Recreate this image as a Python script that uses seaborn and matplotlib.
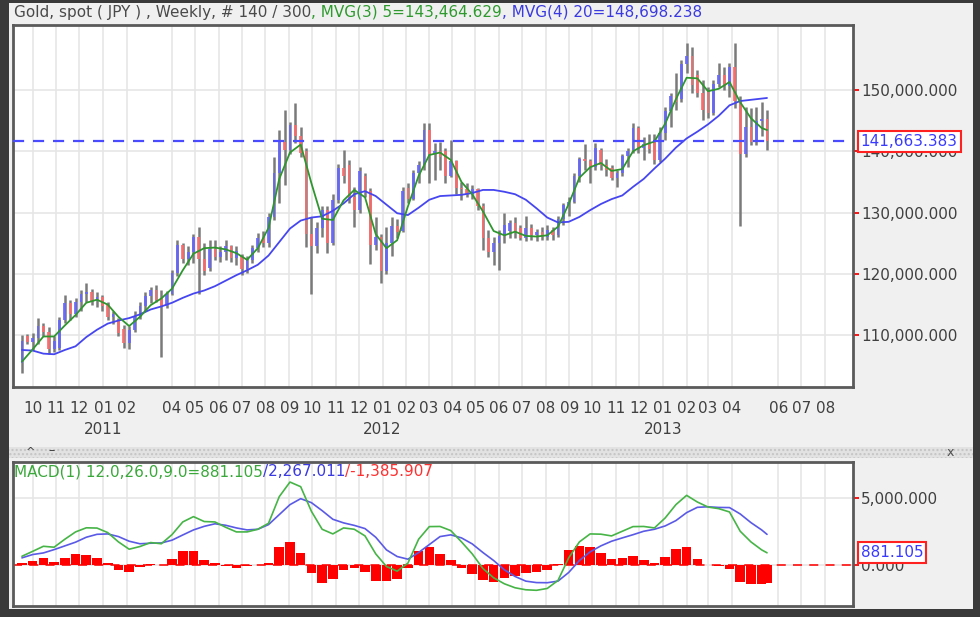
import numpy as np
import pandas as pd
import matplotlib
matplotlib.use("Agg")
import matplotlib.pyplot as plt
import matplotlib.transforms as mtransforms
from matplotlib.patches import Rectangle
import seaborn as sns

# ---------------- data (prices in thousands of JPY) ----------------
first_week = "2010-09-17"
n_weeks = 140

open_k = [105.5, 109.8, 108.9, 109.5, 111.5, 110.6, 107.8, 108.0, 112.5, 115.2,
          113.5, 115.5, 116.8, 117.0, 115.6, 116.3, 115.0, 113.0, 112.5, 111.0,
          108.8, 110.8, 113.2, 114.7, 116.4, 117.3, 116.0, 114.8, 116.8, 120.2,
          124.8, 122.5, 123.5, 126.0, 122.5, 121.0, 124.0, 122.8, 123.6, 124.5,
          122.6, 123.0, 120.8, 122.2, 124.3, 125.8, 125.0, 129.3, 136.5, 141.5,
          140.2, 144.3, 142.5, 140.0, 126.5, 124.5, 127.5, 130.5, 125.0, 132.0,
          137.3, 137.8, 132.5, 130.5, 136.0, 133.5, 124.8, 126.0, 120.5, 125.0,
          127.8, 127.0, 134.0, 132.2, 136.5, 137.8, 143.5, 139.5, 140.0, 140.0,
          136.0, 138.5, 134.0, 133.8, 133.0, 133.8, 131.0, 125.8, 123.5, 125.0,
          126.2, 127.0, 128.3, 127.5, 125.9, 127.5, 126.3, 126.9, 126.0, 127.2,
          126.4, 129.0, 131.2, 131.8, 136.0, 138.7, 138.4, 137.5, 140.2, 137.8,
          137.2, 135.6, 136.4, 139.2, 140.2, 143.8, 140.5, 141.2, 141.8, 138.6,
          143.0, 146.5, 149.0, 148.5, 154.2, 155.5, 152.5, 149.5, 149.8, 146.2,
          151.0, 152.5, 150.6, 153.8, 148.2, 139.5, 144.0, 141.5, 145.0, 145.2]
high_k = [110.0, 110.2, 110.3, 112.8, 112.0, 111.4, 109.8, 113.0, 116.5, 115.8,
          116.0, 117.4, 118.5, 117.5, 117.0, 116.5, 115.4, 114.0, 112.8, 111.6,
          111.5, 114.0, 115.5, 117.0, 117.9, 118.2, 117.4, 117.2, 120.6, 125.5,
          125.0, 124.5, 126.5, 127.7, 125.0, 125.5, 125.5, 124.5, 125.5, 124.8,
          124.5, 123.2, 123.0, 124.8, 126.6, 127.0, 129.9, 139.0, 143.5, 146.7,
          144.8, 147.8, 144.0, 140.5, 129.3, 128.5, 131.0, 131.0, 133.1, 138.0,
          140.2, 138.6, 134.2, 137.5, 136.4, 134.0, 129.3, 126.5, 127.7, 129.3,
          129.0, 134.2, 134.8, 137.0, 138.5, 144.6, 144.6, 141.3, 141.5, 140.5,
          141.8, 138.6, 135.0, 134.8, 134.5, 134.0, 131.5, 127.2, 126.1, 127.2,
          129.9, 128.8, 129.3, 128.0, 129.4, 128.2, 127.4, 127.7, 128.0, 127.6,
          129.5, 131.5, 132.6, 136.4, 139.1, 141.2, 138.8, 141.3, 140.6, 138.8,
          137.8, 137.0, 139.6, 140.5, 144.6, 144.2, 142.4, 142.9, 142.9, 144.0,
          147.3, 149.5, 152.7, 154.9, 157.6, 157.0, 153.3, 151.6, 150.5, 151.6,
          154.4, 153.8, 154.4, 157.6, 149.0, 147.3, 147.0, 147.2, 148.0, 146.7]
low_k = [103.8, 108.5, 107.6, 108.5, 109.8, 107.0, 107.2, 107.6, 112.0, 112.5,
         113.0, 114.0, 115.5, 115.0, 114.6, 114.0, 112.5, 111.8, 109.8, 107.9,
         107.8, 110.5, 112.6, 114.0, 115.2, 115.4, 106.5, 114.5, 116.5, 119.6,
         121.8, 121.5, 121.8, 116.8, 119.8, 120.5, 122.3, 122.0, 122.3, 122.0,
         121.5, 119.8, 120.2, 121.8, 123.5, 124.4, 124.4, 128.8, 131.5, 134.5,
         139.5, 141.3, 139.0, 124.4, 116.8, 123.4, 126.0, 123.4, 124.8, 131.5,
         134.8, 131.5, 127.7, 130.0, 132.6, 121.7, 123.9, 118.5, 120.0, 123.0,
         125.8, 126.8, 131.5, 132.0, 134.8, 137.0, 134.8, 135.3, 137.0, 134.8,
         135.8, 133.1, 132.0, 132.6, 132.3, 130.4, 123.9, 122.8, 121.5, 120.6,
         125.0, 125.8, 125.8, 125.5, 125.3, 125.5, 125.3, 125.6, 125.5, 125.5,
         126.0, 128.0, 129.5, 131.5, 135.0, 137.0, 134.8, 137.0, 137.0, 135.9,
         135.3, 134.2, 136.0, 137.5, 139.8, 139.7, 138.6, 139.7, 138.0, 138.3,
         141.8, 144.0, 146.7, 148.0, 152.7, 149.5, 148.9, 145.1, 145.5, 146.0,
         150.5, 150.0, 148.9, 147.0, 127.8, 139.0, 141.0, 141.0, 142.5, 140.2]
close_k = [109.0, 108.9, 109.5, 111.5, 110.6, 107.8, 109.0, 112.5, 115.2, 113.5,
           115.5, 116.8, 117.0, 115.6, 116.3, 114.8, 113.0, 113.4, 110.3, 108.8,
           110.8, 113.2, 114.7, 116.4, 117.3, 115.8, 114.8, 116.8, 120.2, 124.8,
           122.5, 123.5, 126.0, 122.5, 120.5, 124.0, 122.8, 123.6, 124.5, 122.6,
           123.8, 120.8, 122.2, 124.3, 125.8, 125.0, 129.3, 136.5, 141.5, 140.2,
           144.3, 142.5, 139.8, 126.5, 124.5, 127.5, 130.5, 125.0, 132.0, 137.3,
           136.0, 132.5, 130.5, 136.8, 133.5, 124.8, 126.0, 120.5, 125.0, 127.8,
           126.8, 133.6, 132.2, 136.5, 137.8, 143.5, 139.5, 140.0, 139.0, 136.0,
           138.5, 134.0, 133.8, 133.0, 133.8, 131.0, 125.8, 123.5, 125.0, 126.2,
           128.0, 128.3, 126.8, 125.9, 127.5, 126.3, 126.9, 126.0, 127.2, 126.4,
           129.0, 131.2, 131.8, 136.0, 138.7, 138.4, 137.5, 140.5, 137.8, 137.0,
           135.6, 136.4, 139.2, 140.0, 143.8, 140.5, 141.2, 140.3, 138.6, 143.0,
           146.5, 149.0, 148.0, 154.2, 155.5, 150.8, 149.5, 146.8, 146.2, 151.0,
           152.5, 150.6, 153.8, 148.2, 139.5, 144.0, 141.5, 145.0, 145.2, 141.663]

# indicator lines, read at every second weekly bar plus the last one
line_bars = list(range(0, 140, 2)) + [139]
ma5_k = [105.7, 107.7, 109.8, 109.8, 111.6, 113.3, 115.3, 115.8, 115.0, 113.0,
         111.5, 113.0, 114.9, 116.0, 117.6, 120.6, 123.3, 124.2, 124.3, 124.0,
         123.4, 122.3, 124.2, 127.5, 135.5, 139.8, 141.1, 134.8, 129.0, 128.8,
         132.0, 133.7, 132.5, 126.5, 124.2, 125.5, 131.0, 136.0, 139.4, 139.8,
         138.6, 135.0, 133.0, 130.2, 127.0, 126.3, 126.9, 126.2, 126.1, 126.3,
         127.7, 131.4, 135.7, 137.4, 138.1, 136.8, 137.1, 140.0, 141.0, 141.6,
         144.5, 148.5, 152.0, 151.9, 149.8, 150.2, 151.3, 148.0, 145.4, 143.8,
         143.465]
ma20_k = [107.6, 107.5, 107.0, 106.9, 107.6, 108.2, 109.7, 110.9, 111.9, 112.4,
          112.8, 113.4, 114.2, 114.7, 115.3, 116.1, 116.8, 117.3, 118.0, 118.9,
          119.8, 120.6, 121.5, 123.0, 125.2, 127.4, 128.7, 129.2, 129.4, 130.3,
          131.5, 133.0, 133.5, 132.7, 131.3, 129.9, 129.6, 130.8, 132.1, 132.7,
          132.8, 132.9, 133.2, 133.7, 133.7, 133.4, 133.0, 132.1, 130.7, 129.2,
          128.4, 128.5, 129.3, 130.4, 131.4, 132.2, 132.8, 134.2, 135.5, 137.2,
          138.8, 140.6, 142.1, 143.2, 144.4, 145.8, 147.5, 148.2, 148.4, 148.6,
          148.698]
macd_vals = [620, 990, 1370, 1300, 1900, 2450, 2760, 2740, 2400, 1700,
             1150, 1350, 1650, 1560, 2250, 3200, 3600, 3230, 3200, 2800,
             2450, 2450, 2650, 3100, 5100, 6200, 5850, 4000, 2650, 2300,
             2750, 2650, 2150, 800, -150, -500, 100, 1900, 2850, 2860,
             2550, 1700, 800, -300, -1000, -1450, -1750, -1900, -1940, -1800,
             -1200, 500, 1700, 2300, 2280, 2150, 2500, 2850, 2860, 2750,
             3500, 4500, 5200, 4700, 4320, 4200, 3950, 2500, 1700, 1100,
             881.105]
signal_vals = [500, 750, 870, 1120, 1400, 1680, 2050, 2270, 2300, 2100,
               1750, 1560, 1600, 1620, 1830, 2220, 2600, 2870, 3060, 2950,
               2750, 2600, 2650, 3000, 3750, 4500, 4950, 4650, 4050, 3400,
               3130, 2940, 2700, 2050, 1100, 600, 400, 900, 1500, 2100,
               2230, 2000, 1550, 900, 300, -400, -900, -1250, -1360, -1370,
               -1250, -600, 300, 950, 1400, 1750, 2000, 2240, 2500, 2650,
               2900, 3300, 3900, 4300, 4340, 4290, 4280, 3800, 3150, 2600,
               2267.011]

last_close = 141663.383
macd_last = 881.105
price_ticks = [110000, 120000, 130000, 140000, 150000]
macd_ticks = [0, 5000]
month_ticks = ["2010-10", "2010-11", "2010-12", "2011-01", "2011-02", "2011-04",
               "2011-05", "2011-06", "2011-07", "2011-08", "2011-09", "2011-10",
               "2011-11", "2011-12", "2012-01", "2012-02", "2012-03", "2012-04",
               "2012-05", "2012-06", "2012-07", "2012-08", "2012-09", "2012-10",
               "2012-11", "2012-12", "2013-01", "2013-02", "2013-03", "2013-04",
               "2013-06", "2013-07", "2013-08"]
year_labels = ["2011", "2012", "2013"]

title_parts = [("Gold, spot ( JPY ) , Weekly, # 140 / 300", "#4a4a4a"),
               (", MVG(3) 5=143,464.629", "#2e9a2e"),
               (", MVG(4) 20=148,698.238", "#3a3ae0")]
macd_parts = [("MACD(1) 12.0,26.0,9.0=881.105", "#3aa83a"),
              ("/2,267.011", "#3a3ae0"),
              ("/-1,385.907", "#ff3030")]

# ---------------- build tables ----------------
dates = pd.date_range(first_week, periods=n_weeks, freq="7D")
bars = pd.DataFrame({"date": dates,
                     "open": np.array(open_k) * 1000,
                     "high": np.array(high_k) * 1000,
                     "low": np.array(low_k) * 1000,
                     "close": np.array(close_k) * 1000})
lines = pd.DataFrame({"date": dates[line_bars],
                      "ma5": np.array(ma5_k) * 1000,
                      "ma20": np.array(ma20_k) * 1000,
                      "macd": macd_vals,
                      "signal": signal_vals})
lines["hist"] = lines["macd"] - lines["signal"]

# ---------------- style ----------------
sns.set_style("white")
plt.rcParams["font.family"] = ["DejaVu Sans"]
FS = 11
W, H = 980, 617
fig = plt.figure(figsize=(W / 100, H / 100), dpi=100, facecolor="#f0f0f0")

def fig_rect(x0, y0, x1, y1, **kw):
    fig.patches.append(Rectangle((x0 / W, 1 - y1 / H), (x1 - x0) / W, (y1 - y0) / H,
                                 transform=fig.transFigure, figure=fig, **kw))

# outer dark frame
fig_rect(0, 0, 9, H, facecolor="#3a3a3a", edgecolor="none")
fig_rect(0, 0, W, 3, facecolor="#3a3a3a", edgecolor="none")
fig_rect(973, 0, W, H, facecolor="#3a3a3a", edgecolor="none")
fig_rect(0, 609, W, H, facecolor="#3a3a3a", edgecolor="none")
# splitter band
fig_rect(9, 447, 973, 458, facecolor="#e2e2e2", edgecolor="#c4c4c4", hatch="....", lw=0)
fig.text(30 / W, 1 - 452 / H, "^", fontsize=8, color="#404040", ha="center", va="center")
fig.text(52 / W, 1 - 451 / H, "\u2013", fontsize=9, color="#404040", ha="center", va="center")
fig.text(950 / W, 1 - 452 / H, "x", fontsize=9, color="#505050", ha="center", va="center")

xl = (pd.Timestamp(first_week) - pd.Timedelta(days=12.1),
      pd.Timestamp(first_week) + pd.Timedelta(days=1085.3))
tick_dates = [pd.Timestamp(m + "-01") for m in month_ticks]
tick_text = [m[-2:] for m in month_ticks]

# ---------------- price panel ----------------
ax = fig.add_axes([12.7 / W, 1 - 387 / H, (853 - 12.7) / W, (387 - 25) / H])
ax.set_facecolor("white")
ax.set_xlim(*xl)
ax.set_ylim(101560, 160600)

up = bars["close"] >= bars["open"]
ax.vlines(bars["date"], bars["low"], bars["high"], color="#7a7a7a", lw=1.8, zorder=2)
body_lo = np.minimum(bars["open"], bars["close"])
body_h = np.abs(bars["close"] - bars["open"])
ax.bar(bars["date"][up], body_h[up], bottom=body_lo[up], width=3.6,
       color="#6464ff", alpha=0.85, zorder=3, linewidth=0)
ax.bar(bars["date"][~up], body_h[~up], bottom=body_lo[~up], width=3.6,
       color="#ff6a6a", alpha=0.85, zorder=3, linewidth=0)

sns.lineplot(data=lines, x="date", y="ma20", ax=ax, color="#4646f0", lw=1.3, zorder=4)
sns.lineplot(data=lines, x="date", y="ma5", ax=ax, color="#2f962f", lw=1.3, zorder=5)
ax.axhline(last_close, color="#4a4aff", lw=1.6, ls=(0, (5, 4)), zorder=6)

ax.set_xticks(tick_dates)
ax.set_xticklabels(tick_text)
ax.set_yticks(price_ticks)
ax.set_yticklabels([f"{v:,.3f}" for v in price_ticks])
ax.yaxis.tick_right()
ax.tick_params(axis="y", color="red", width=1.3, length=4, labelcolor="#404040",
               labelsize=FS, pad=2)
ax.tick_params(axis="x", color="red", width=1.5, length=3, labelcolor="#404040",
               labelsize=FS, pad=7)
ax.set_xlabel("")
ax.set_ylabel("")
ax.grid(True, color="#e6e6e6", lw=1.2)
for s in ax.spines.values():
    s.set_color("#5a5a5a")
    s.set_linewidth(2)

trans = mtransforms.blended_transform_factory(ax.transData, ax.transAxes)
for yl in year_labels:
    ax.text(pd.Timestamp(yl + "-01-01"), -0.118, yl, transform=trans, ha="center",
            va="center", fontsize=FS, color="#404040")

ytrans = mtransforms.blended_transform_factory(ax.transAxes, ax.transData)
ax.text(1.009, last_close, f"{last_close:,.3f}", transform=ytrans, ha="left", va="center",
        fontsize=FS, color="#3a3aff", zorder=10, clip_on=False,
        bbox=dict(boxstyle="square,pad=0.2", fc="white", ec="#ff2020", lw=1.5))

# ---------------- MACD panel ----------------
ax2 = fig.add_axes([12.7 / W, 1 - 606 / H, (853 - 12.7) / W, (606 - 462) / H])
ax2.set_facecolor("white")
ax2.set_xlim(*xl)
ax2.set_ylim(-3120, 7707)
ax2.axhline(0, color="#ff2020", lw=1.3, ls=(0, (5, 4)), zorder=1)
ax2.bar(lines["date"], lines["hist"], width=12.5, color="#ff0000", linewidth=0, zorder=2)
sns.lineplot(data=lines, x="date", y="signal", ax=ax2, color="#5a5ae6", lw=1.2, zorder=4)
sns.lineplot(data=lines, x="date", y="macd", ax=ax2, color="#46b446", lw=1.2, zorder=5)
ax2.set_xticks(tick_dates)
ax2.set_xticklabels([])
ax2.set_yticks(macd_ticks)
ax2.set_yticklabels([f"{v:,.3f}" for v in macd_ticks])
ax2.yaxis.tick_right()
ax2.tick_params(axis="y", color="red", width=1.3, length=4, labelcolor="#404040",
                labelsize=FS, pad=2)
ax2.tick_params(axis="x", length=0)
ax2.set_xlabel("")
ax2.set_ylabel("")
ax2.grid(True, color="#e6e6e6", lw=1.2)
for s in ax2.spines.values():
    s.set_color("#5a5a5a")
    s.set_linewidth(2)
ytrans2 = mtransforms.blended_transform_factory(ax2.transAxes, ax2.transData)
ax2.text(1.009, macd_last, f"{macd_last:,.3f}", transform=ytrans2, ha="left", va="center",
         fontsize=FS, color="#3a3aff", zorder=10, clip_on=False,
         bbox=dict(boxstyle="square,pad=0.2", fc="white", ec="#ff2020", lw=1.5))

# ---------------- multi-colour titles ----------------
renderer = fig.canvas.get_renderer()

def colored_line(x_px, y_px, parts, size):
    x = x_px
    for s, c in parts:
        t = fig.text(x / W, 1 - y_px / H, s, color=c, fontsize=size, ha="left", va="center")
        x += t.get_window_extent(renderer).width

colored_line(14, 12, title_parts, FS)
colored_line(14, 472, macd_parts, FS)

fig.savefig("out.png", dpi=100, facecolor=fig.get_facecolor())
